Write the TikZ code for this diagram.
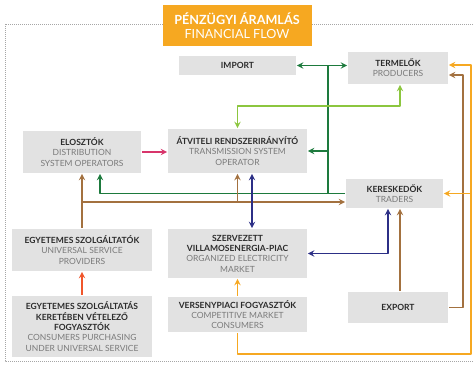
\documentclass[tikz,border=0pt]{standalone}
\usepackage{fontspec}
\setmainfont{Lato}
\usetikzlibrary{calc}

\definecolor{hopxam}{HTML}{E2E2E2}
\definecolor{chudam}{HTML}{2B2B2B}
\definecolor{chunhat}{HTML}{7A7A7A}
\definecolor{cam}{HTML}{F6A821}
\definecolor{xanhdam}{HTML}{1D7A3D}
\definecolor{xanhla}{HTML}{8CC63F}
\definecolor{hong}{HTML}{D8356B}
\definecolor{nau}{HTML}{A3713F}
\definecolor{xanhduong}{HTML}{2C2F86}
\definecolor{dogach}{HTML}{F0562B}

\newcommand{\tde}[1]{{\color{chudam}\bfseries #1}}

\begin{document}
\begin{tikzpicture}[x=1pt,y=-1pt,line join=round,>=stealth,line width=1.8pt,
	hop/.style={fill=hopxam,inner sep=0pt,align=center,text=chunhat,
		font=\fontsize{8.5}{10.3}\selectfont},
	muiten/.style={->}]
	\clip (0,0) rectangle (474,366);
	% Khung ngoài
	\draw[gray!70,line width=0.6pt,dash pattern=on 1pt off 1pt] (5,24) rectangle (490,361);
	% Tiêu đề
	\node[fill=cam,minimum width=149pt,minimum height=41pt,inner sep=0pt,text=white,align=center,
		font=\fontsize{12.6}{14.5}\selectfont] (tieude) at (237,25.5)
		{\bfseries PÉNZÜGYI ÁRAMLÁS\\FINANCIAL FLOW};
	% Các hộp
	\node[hop,minimum width=117pt,minimum height=19pt] (imp) at (237.5,65.5) {\tde{IMPORT}};
	\node[hop,minimum width=100pt,minimum height=32pt] (prod) at (398,68) {\tde{TERMELŐK}\\PRODUCERS};
	\node[hop,minimum width=118pt,minimum height=42pt] (dso) at (82,152) {\tde{ELOSZTÓK}\\DISTRIBUTION\\SYSTEM OPERATORS};
	\node[hop,minimum width=139pt,minimum height=44pt] (tso) at (237.5,151) {\tde{ÁTVITELI RENDSZERIRÁNYÍTÓ}\\TRANSMISSION SYSTEM\\OPERATOR};
	\node[hop,minimum width=97pt,minimum height=29pt] (trd) at (394.5,193.5) {\tde{KERESKEDŐK}\\TRADERS};
	\node[hop,minimum width=140pt,minimum height=42pt] (usp) at (82,250) {\tde{EGYETEMES SZOLGÁLTATÓK}\\UNIVERSAL SERVICE\\PROVIDERS};
	\node[hop,minimum width=139pt,minimum height=49pt] (oem) at (237.5,253.5) {\tde{SZERVEZETT}\\\tde{VILLAMOSENERGIA-PIAC}\\ORGANIZED ELECTRICITY\\MARKET};
	\node[hop,minimum width=140pt,minimum height=61pt] (cus) at (82,326.5) {\tde{EGYETEMES SZOLGÁLTATÁS}\\\tde{KERETÉBEN VÉTELEZŐ}\\\tde{FOGYASZTÓK}\\CONSUMERS PURCHASING\\UNDER UNIVERSAL SERVICE};
	\node[hop,minimum width=139pt,minimum height=35pt] (cmc) at (237.5,314.5) {\tde{VERSENYPIACI FOGYASZTÓK}\\COMPETITIVE MARKET\\CONSUMERS};
	\node[hop,minimum width=100pt,minimum height=31pt] (exp) at (398,307.5) {\tde{EXPORT}};
	% Mũi tên xanh đậm
	\coordinate (G1) at (328,65.5);
	\coordinate (G2) at (328,193.5);
	\coordinate (G3) at (328,151);
	\draw[<->,xanhdam] (imp.east) -- (imp.east -| prod.west);
	\draw[xanhdam] (G1) -- (G2);
	\draw[muiten,xanhdam] (G3) -- (G3 -| tso.east);
	\draw[muiten,xanhdam] (trd.west) -| ($(dso.south)+(18,0)$);
	% Mũi tên xanh lá
	\coordinate (L1) at (300,106);
	\draw[<->,xanhla] (tso.north) |- (L1) -| ($(prod.south)+(2,0)$);
	% Mũi tên hồng
	\draw[muiten,hong] (dso.east) -- (dso.east -| tso.west);
	% Mũi tên nâu
	\coordinate (B1) at (82,202);
	\draw[muiten,nau] (usp.north) -- (dso.south);
	\draw[muiten,nau] (B1) -- (B1 -| trd.west);
	\draw[muiten,nau] (B1 -| tso.south) -- (tso.south);
	\draw[muiten,nau] ($(exp.north)+(2,0)$) -- ($(trd.south)+(5.5,0)$);
	\coordinate (N1) at (463,75);
	\draw[muiten,nau] (exp.east) -| (N1) -- (N1 -| prod.east);
	% Mũi tên xanh dương
	\draw[<->,xanhduong] ($(tso.south)+(14.5,0)$) -- ($(oem.north)+(14.5,0)$);
	\draw[<->,xanhduong] (oem.east) -| ($(trd.south)+(-6.5,0)$);
	% Mũi tên cam
	\coordinate (C1) at (471,354);
	\coordinate (C2) at (471,193.5);
	\draw[muiten,cam] (cmc.south) |- (C1) |- ($(prod.east)+(0,-3)$);
	\draw[muiten,cam] (C2) -- (trd.east);
	\draw[muiten,cam] (cmc.north) -- (oem.south);
	% Mũi tên đỏ cam
	\draw[muiten,dogach] (cus.north) -- (usp.south);
\end{tikzpicture}
\end{document}
